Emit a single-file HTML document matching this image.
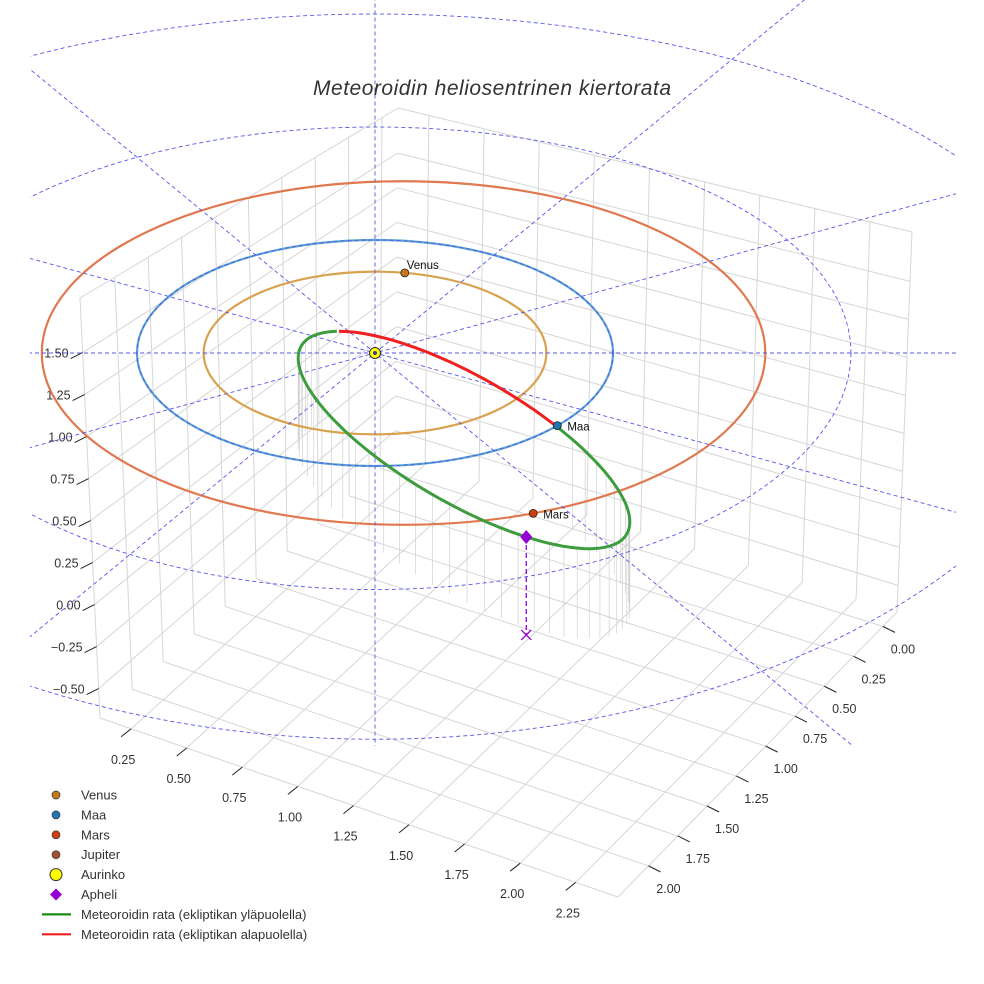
<!DOCTYPE html>
<html><head><meta charset="utf-8"><style>
html,body{margin:0;padding:0;background:#fff}
svg{display:block;font-family:"Liberation Sans",sans-serif}
</style></head><body>
<svg id="chart" width="984" height="984" viewBox="0 0 984 984" xmlns="http://www.w3.org/2000/svg">
<defs><clipPath id="clipA"><rect x="30" y="0" width="926" height="746"/></clipPath></defs>
<rect width="984" height="984" fill="#fff"/>
<g id="grid"></g>
<g id="ticks"></g>
<g id="drops"></g>
<g id="orbits"></g>
<g id="guides" clip-path="url(#clipA)"></g>
<g id="meteor"></g>
<g id="marks"></g>
<text x="492" y="95" text-anchor="middle" font-size="21" font-style="italic" fill="#333" textLength="358">Meteoroidin heliosentrinen kiertorata</text>
<g id="legend"></g>
</svg>
<script>
// ---- data ----
const xTicks=[0,0.25,0.5,0.75,1,1.25,1.5,1.75,2];
const yTicks=[0.25,0.5,0.75,1,1.25,1.5,1.75,2,2.25];
const zTicks=[-0.5,-0.25,0,0.25,0.5,0.75,1,1.25,1.5];
const planetNames=["Venus","Maa","Mars"];
const orbitRadiiAU=[0.72,1.0,1.52];
const orbitCenterOffsetAU=[0,0,0.12];
const planetAnglesDeg=[-80,40,69];
const guideRingRadii=[1,2,3];
const spokeAnglesDeg=[0,30,60,90,120,150];
const meteorA=188, meteorB=63, meteorTiltDeg=30;
const redArcStartDeg=-150, redArcEndDeg=-67;
const apheliAngleDeg=57;
const apheliDrop=98;

const NS="http://www.w3.org/2000/svg";
function mk(tag,attrs,parent){const e=document.createElementNS(NS,tag);for(const k in attrs)e.setAttribute(k,attrs[k]);parent.appendChild(e);return e;}
const $=id=>document.getElementById(id);

// ---- 3D box projection ----
const XR=[-0.12,2.26],YR=[0.11,2.44],ZR=[-0.675,1.825];
const Cn={"000":[395,455],"001":[398,108],"100":[100,718],"101":[80,298],"110":[618,897],"111":[626,437],"010":[897,612],"011":[912,232]};
function lerp(a,b,t){return [a[0]+(b[0]-a[0])*t,a[1]+(b[1]-a[1])*t];}
function proj(x,y,z){
  const u=(x-XR[0])/(XR[1]-XR[0]),v=(y-YR[0])/(YR[1]-YR[0]),w=(z-ZR[0])/(ZR[1]-ZR[0]);
  const c=(a,b,cc)=>Cn[""+a+b+cc];
  const p00=lerp(c(0,0,0),c(1,0,0),u),p01=lerp(c(0,0,1),c(1,0,1),u),p10=lerp(c(0,1,0),c(1,1,0),u),p11=lerp(c(0,1,1),c(1,1,1),u);
  return lerp(lerp(p00,p10,v),lerp(p01,p11,v),w);
}
const G=$("grid");
function gl(a,b){const l=mk("line",{x1:a[0],y1:a[1],x2:b[0],y2:b[1],stroke:"#d6d6d6","stroke-width":1},G);

}
xTicks.forEach(x=>gl(proj(x,YR[0],ZR[0]),proj(x,YR[0],ZR[1])));
zTicks.forEach(z=>gl(proj(XR[0],YR[0],z),proj(XR[1],YR[0],z)));
yTicks.forEach(y=>gl(proj(XR[0],y,ZR[0]),proj(XR[0],y,ZR[1])));
zTicks.forEach(z=>gl(proj(XR[0],YR[0],z),proj(XR[0],YR[1],z)));
xTicks.forEach(x=>gl(proj(x,YR[0],ZR[0]),proj(x,YR[1],ZR[0])));
yTicks.forEach(y=>gl(proj(XR[0],y,ZR[0]),proj(XR[1],y,ZR[0])));
[[[0,0,1],[1,0,1]],[[0,0,1],[0,1,1]],[[1,0,0],[1,1,0]],[[0,1,0],[1,1,0]],[[1,0,0],[1,0,1]],[[0,1,0],[0,1,1]]].forEach(([a,b])=>{
  gl(proj(XR[a[0]],YR[a[1]],ZR[a[2]]),proj(XR[b[0]],YR[b[1]],ZR[b[2]]));});

// ---- ticks ----
const T=$("ticks");
function tick(p,d,label,lo,anchor,name){
  const l=mk("line",{x1:p[0],y1:p[1],x2:p[0]+d[0],y2:p[1]+d[1],stroke:"#222","stroke-width":1},T);
  
  
  const t=mk("text",{x:p[0]+lo[0],y:p[1]+lo[1],"text-anchor":anchor,"font-size":12.5,fill:"#333"},T);
  t.textContent=label;
  
  
}
xTicks.forEach(x=>tick(proj(x,YR[1],ZR[0]),[12,6],x.toFixed(2),[20,27],"middle","x-axis"));
yTicks.forEach(y=>tick(proj(XR[1],y,ZR[0]),[-10,8],y.toFixed(2),[-8,35],"middle","y-axis"));
zTicks.forEach(z=>tick(proj(XR[1],YR[0],z),[-12,6],z.toFixed(2).replace("-","\u2212"),[-14,5],"end","z-axis"));

// ---- orbits ----
const SX=238,SY=113,CX=375,CY=353;
function ecl(r,deg,off){const a=deg*Math.PI/180;return [CX+(off||0)*SX+r*SX*Math.cos(a),CY+r*SY*Math.sin(a)];}
const orbitColors=["#d9a24e","#5aa5d0","#e07850"];
const planetColors=["#c8781a","#1f77b4","#cc4010"];
const O=$("orbits");
planetNames.forEach((n,i)=>{
  const e=mk("ellipse",{cx:CX+orbitCenterOffsetAU[i]*SX,cy:CY,rx:orbitRadiiAU[i]*SX,ry:orbitRadiiAU[i]*SY,fill:"none",stroke:orbitColors[i],"stroke-width":2.2},O);
  
  
});
const GD=$("guides");
guideRingRadii.forEach(r=>{
  const k=0.093*Math.max(0,r-1.5);
  let d="";
  for(let a=0;a<=360;a+=2){const t=a*Math.PI/180,s=Math.sin(t);
    const x=CX+r*SX*Math.cos(t),y=CY+r*SY*s*(s>0?1+k*s:1);
    d+=(d?"L":"M")+x.toFixed(1)+" "+y.toFixed(1);}
  const e=mk("path",{d:d,fill:"none",stroke:"#5555ee","stroke-width":0.9,"stroke-dasharray":"4 3"},GD);
  
  
});
spokeAnglesDeg.forEach(d=>{
  const a=ecl(4.5,d),b=ecl(4.5,d+180);
  const l=mk("line",{x1:a[0],y1:a[1],x2:b[0],y2:b[1],stroke:"#5555ee","stroke-width":0.9,"stroke-dasharray":"4 3"},GD);
  
  
});

// ---- meteoroid ----
const MC=[464,440],ph=meteorTiltDeg*Math.PI/180;
function met(deg){const t=deg*Math.PI/180,u=meteorA*Math.cos(t),v=meteorB*Math.sin(t);
  return [MC[0]+u*Math.cos(ph)-v*Math.sin(ph),MC[1]+u*Math.sin(ph)+v*Math.cos(ph)];}
function arc(a,b){let s="";for(let d=a;d<=b+0.01;d+=2){const p=met(d);s+=(s?"L":"M")+p[0].toFixed(1)+" "+p[1].toFixed(1);}return s;}
const D=$("drops");
for(let d=-60;d<=200;d+=6){const p=met(d);
  const l=mk("line",{x1:p[0],y1:p[1],x2:p[0],y2:p[1]+90,stroke:"#d0d0d0","stroke-width":0.7},D);
  
  }
const M=$("meteor");
const g1=mk("path",{d:arc(redArcEndDeg,redArcStartDeg+360),fill:"none",stroke:"#3d9c3d","stroke-width":3},M);


const r1=mk("path",{d:arc(redArcStartDeg,redArcEndDeg),fill:"none",stroke:"#ee2020","stroke-width":3},M);



// ---- markers ----
const K=$("marks");
planetNames.forEach((n,i)=>{
  const p=ecl(orbitRadiiAU[i],planetAnglesDeg[i],orbitCenterOffsetAU[i]);
  const c=mk("circle",{cx:p[0],cy:p[1],r:4,fill:planetColors[i],stroke:"#222","stroke-width":0.8},K);
  
  
  const t=mk("text",{x:p[0]+(i==0?2:10),y:p[1]+(i==0?-4:5),"font-size":11.5,fill:"#111"},K);
  t.textContent=n;
  
  
});
const sun=mk("circle",{cx:CX,cy:CY,r:5.5,fill:"#ffff00",stroke:"#333","stroke-width":1},K);


const sunc=mk("circle",{cx:CX,cy:CY,r:2,fill:"#3a3a8a"},K);


const ap=met(apheliAngleDeg);
const apl=mk("line",{x1:ap[0],y1:ap[1],x2:ap[0],y2:ap[1]+apheliDrop,stroke:"#9400d3","stroke-width":1.3,"stroke-dasharray":"5 3"},K);


const apd=mk("path",{d:`M${ap[0]} ${ap[1]-7}L${ap[0]+6} ${ap[1]}L${ap[0]} ${ap[1]+7}L${ap[0]-6} ${ap[1]}Z`,fill:"#9400d3"},K);


const ax=ap[0],ay=ap[1]+apheliDrop;
const apx=mk("path",{d:`M${ax-5} ${ay-5}L${ax+5} ${ay+5}M${ax+5} ${ay-5}L${ax-5} ${ay+5}`,stroke:"#9400d3","stroke-width":1.3},K);



// ---- legend ----
const legendLabels=["Venus","Maa","Mars","Jupiter","Aurinko","Apheli","Meteoroidin rata (ekliptikan yläpuolella)","Meteoroidin rata (ekliptikan alapuolella)"];
const L=$("legend");
legendLabels.forEach((lab,i)=>{
  const y=795+i*19.9;
  const g=mk("g",{},L);
  
  
  if(i<4){mk("circle",{cx:56,cy:y,r:4,fill:["#c8781a","#1f77b4","#cc4010","#a0522d"][i],stroke:"#333","stroke-width":0.7},g);}
  else if(i==4){mk("circle",{cx:56,cy:y,r:6,fill:"#ffff00",stroke:"#333","stroke-width":1},g);}
  else if(i==5){mk("path",{d:`M56 ${y-6}L62 ${y}L56 ${y+6}L50 ${y}Z`,fill:"#9400d3"},g);}
  else{mk("line",{x1:42,y1:y,x2:71,y2:y,stroke:i==6?"#1a8a1a":"#ee2020","stroke-width":2.2},g);}
  const t=mk("text",{x:81,y:y+4.5,"font-size":13,fill:"#333"},g);
  t.textContent=lab;
});
</script>
</body></html>
